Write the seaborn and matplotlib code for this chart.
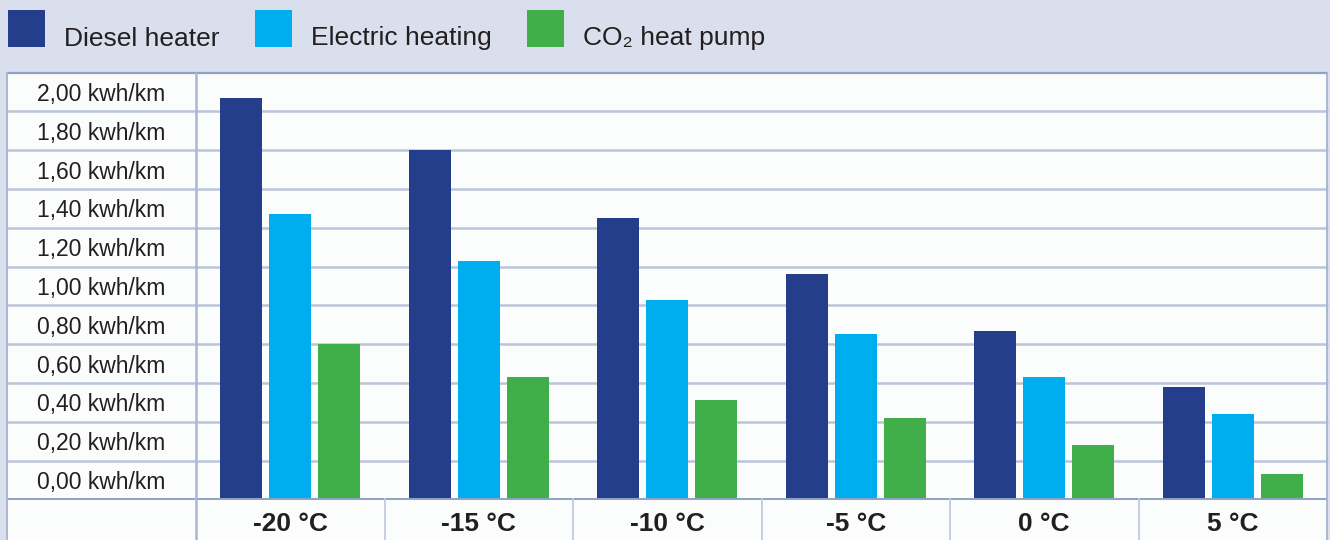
import matplotlib
matplotlib.use("Agg")
import matplotlib.pyplot as plt
import matplotlib.transforms as mtransforms
from matplotlib.patches import Rectangle
from matplotlib.legend_handler import HandlerPatch
import pandas as pd
import seaborn as sns

# ---- data ----
temperatures = ["-20 °C", "-15 °C", "-10 °C", "-5 °C", "0 °C", "5 °C"]
series_names = ["Diesel heater", "Electric heating", "CO₂ heat pump"]
diesel_heater = [2.07, 1.80, 1.45, 1.16, 0.87, 0.58]
electric_heating = [1.47, 1.23, 1.03, 0.85, 0.63, 0.44]
co2_heat_pump = [0.80, 0.63, 0.51, 0.42, 0.28, 0.13]
y_tick_values = [0.0, 0.2, 0.4, 0.6, 0.8, 1.0, 1.2, 1.4, 1.6, 1.8, 2.0]
y_tick_labels = ["0,00 kwh/km", "0,20 kwh/km", "0,40 kwh/km", "0,60 kwh/km",
                 "0,80 kwh/km", "1,00 kwh/km", "1,20 kwh/km", "1,40 kwh/km",
                 "1,60 kwh/km", "1,80 kwh/km", "2,00 kwh/km"]
series_colors = ["#243e8c", "#00aeef", "#40ae49"]

records = []
for name, values in zip(series_names, [diesel_heater, electric_heating, co2_heat_pump]):
    for t, v in zip(temperatures, values):
        records.append({"temperature": t, "series": name, "value": v})
df = pd.DataFrame(records)

# ---- style ----
sns.set_theme(style="white")
plt.rcParams["font.family"] = ["Liberation Sans", "DejaVu Sans"]
TEXT = "#231f20"
HEADER_BG = "#d9dfec"
TABLE_BG = "#fbfdfd"
BORDER = "#8fa2c5"
GRID = "#bac4da"
SEP = "#c6cfe2"

W, H = 1330, 540
fig = plt.figure(figsize=(W / 100, H / 100), dpi=100, facecolor=HEADER_BG)


def fx(px):
    return px / W


def fy(py):
    return 1 - py / H


# layout of the table in pixels
LEFT_COL, PLOT_L, PLOT_R = 7, 196, 1327
PLOT_T, PLOT_B = 72.7, 499.3

# white table background (label column + plot + bottom label row)
fig.patches.append(Rectangle((fx(LEFT_COL), 0), fx(PLOT_R) - fx(LEFT_COL), fy(PLOT_T),
                             transform=fig.transFigure, facecolor=TABLE_BG,
                             edgecolor="none", zorder=-1))

ax = fig.add_axes([fx(PLOT_L), fy(PLOT_B), fx(PLOT_R) - fx(PLOT_L), fy(PLOT_T) - fy(PLOT_B)])
ax.set_facecolor(TABLE_BG)

sns.barplot(data=df, x="temperature", y="value", hue="series",
            order=temperatures, hue_order=series_names, palette=series_colors,
            saturation=1, width=0.78, gap=0.14, linewidth=0, edgecolor="none",
            ax=ax, zorder=2)

ax.set_xlim(-0.5, len(temperatures) - 0.5)
ax.set_ylim(0, 2.2)
ax.set_xlabel("")
ax.set_ylabel("")
for s in ax.spines.values():
    s.set_visible(False)

plot_w = PLOT_R - PLOT_L
plot_h = PLOT_B - PLOT_T
x_left_col = (LEFT_COL - PLOT_L) / plot_w      # left table edge in axes coords
y_fig_bottom = -(H - PLOT_B) / plot_h          # figure bottom in axes coords

# horizontal row lines, running through the label column
for v in y_tick_values[1:]:
    ax.axhline(v, xmin=x_left_col, xmax=1, color=GRID, lw=1.8, zorder=0.5, clip_on=False)
ax.axhline(0, xmin=x_left_col, xmax=1, color=BORDER, lw=1.4, zorder=3, clip_on=False)
ax.axhline(2.2, xmin=x_left_col, xmax=1, color=BORDER, lw=1.6, zorder=3, clip_on=False)

# vertical table borders
for xa, col, lw in [(x_left_col, "#a9b7d2", 1.4), (0, "#a9b7d2", 1.8), (1, "#a9b7d2", 1.4)]:
    ax.plot([xa, xa], [y_fig_bottom, 1], transform=ax.transAxes, color=col, lw=lw,
            clip_on=False, zorder=3)

# separators between category cells in the bottom label row
for k in range(len(temperatures) - 1):
    ax.plot([k + 0.5, k + 0.5], [y_fig_bottom, 0], transform=ax.get_xaxis_transform(),
            color=SEP, lw=1.4, clip_on=False, zorder=3)

# y tick labels sit centred in the label cells
ax.set_yticks(y_tick_values, y_tick_labels)
ax.tick_params(axis="y", length=0, pad=68, labelsize=16.5, labelcolor=TEXT)
half_row = mtransforms.ScaledTranslation(0, (plot_h / 11) / 2 / 100, fig.dpi_scale_trans)
for lab in ax.get_yticklabels():
    lab.set_horizontalalignment("center")
    lab.set_transform(lab.get_transform() + half_row)

ax.tick_params(axis="x", length=0, pad=9.5, labelsize=19, labelcolor=TEXT)
for lab in ax.get_xticklabels():
    lab.set_fontweight("bold")


# legend swatches: squares standing on the text baseline
def square_on_baseline(legend, orig_handle, xdescent, ydescent, width, height, fontsize):
    return Rectangle((-xdescent, -0.8), width, width,
                     facecolor=orig_handle.get_facecolor(), edgecolor="none")


handles, labels = ax.get_legend_handles_labels()
if ax.get_legend() is not None:
    ax.get_legend().remove()
fig.legend(handles, labels, loc="lower left", bbox_to_anchor=(fx(8), fy(50.5)),
           ncol=3, frameon=False, fontsize=19, handlelength=1.4, handleheight=0.7,
           handletextpad=0.72, columnspacing=1.35, borderpad=0, borderaxespad=0,
           labelcolor=TEXT,
           handler_map={Rectangle: HandlerPatch(patch_func=square_on_baseline)})

fig.savefig("out.png", dpi=100, facecolor=HEADER_BG)
